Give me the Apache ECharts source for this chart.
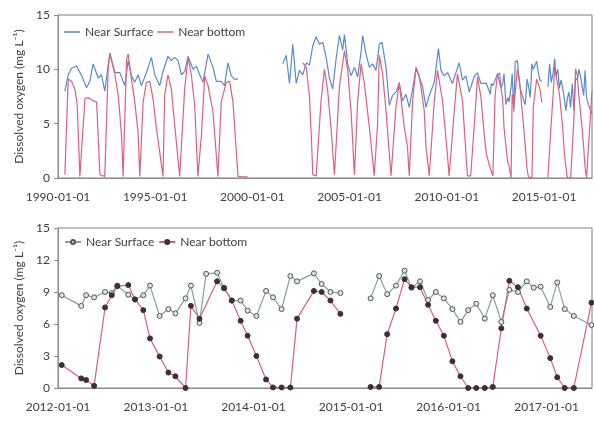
<!DOCTYPE html>
<html><head><meta charset="utf-8">
<script src="https://cdn.jsdelivr.net/npm/echarts@6/dist/echarts.min.js"></script>
<style>html,body{margin:0;padding:0;background:#fff}#c{width:594px;height:432px}</style>
</head><body><div id="c"></div><script>
// ---------- Top panel: 1990s ----------
const surf90Dates = ['1990-05-10','1990-07-12','1990-09-13','1990-12-16','1991-03-22','1991-06-21','1991-08-22','1991-10-23','1992-01-26','1992-03-29','1992-05-29','1992-09-01','1992-12-05','1993-03-08','1993-06-09','1993-08-11','1993-10-12','1993-12-13','1994-02-14','1994-04-18','1994-07-20','1994-10-22','1994-12-23','1995-03-27','1995-05-28','1995-08-29','1995-10-31','1996-01-04','1996-03-06','1996-05-07','1996-07-08','1996-09-09','1996-12-12','1997-02-13','1997-04-16','1997-06-17','1997-09-20','1997-12-21','1998-02-22','1998-05-26','1998-07-27','1998-09-28','1998-11-30','1999-02-01','1999-04-05'];
const surf90Values = [8.0,9.5,10.1,10.3,9.4,8.3,8.9,10.5,9.2,9.5,8.0,11.5,9.7,9.7,8.5,10.8,9.4,8.8,9.5,8.5,9.7,11.1,9.5,8.5,9.8,11.2,10.8,11.1,10.8,9.5,9.8,11.2,10.0,10.3,9.5,8.8,11.4,10.2,8.9,8.9,8.5,10.6,9.4,9.1,9.1];
const bot90Dates = ['1990-05-10','1990-07-12','1990-09-13','1990-11-14','1990-12-28','1991-02-16','1991-05-22','1991-07-22','1991-10-23','1991-12-27','1992-02-28','1992-05-29','1992-07-31','1992-09-01','1992-12-05','1993-02-06','1993-04-09','1993-05-08','1993-07-12','1993-08-11','1993-10-12','1993-12-13','1994-02-14','1994-03-18','1994-05-19','1994-07-20','1994-09-20','1994-11-21','1995-01-26','1995-05-28','1995-06-28','1995-08-29','1995-10-31','1996-01-04','1996-04-05','1996-07-08','1996-09-09','1996-11-10','1997-01-12','1997-03-14','1997-05-18','1997-07-19','1997-09-20','1997-12-21','1998-03-25','1998-05-26','1998-08-28','1998-10-30','1999-01-01','1999-04-05','1999-07-06','1999-10-01'];
const bot90Values = [0.3,9.1,8.9,8.2,6.7,0.15,7.3,7.4,7.1,7.0,0.3,0.15,10.0,11.5,9.5,7.6,3.9,0.15,10.9,11.4,9.1,7.0,4.2,0.15,7.0,8.8,8.9,7.3,4.5,0.15,7.6,9.5,8.2,4.8,0.15,8.2,11.1,9.5,6.7,0.15,3.9,9.4,8.5,6.1,0.15,7.0,8.8,8.9,7.0,0.15,0.1,0.1];

// ---------- Top panel: 2001-2011 ----------
const surf01Dates = ['2001-07-25','2001-09-27','2001-11-28','2002-01-29','2002-04-03','2002-06-04','2002-08-05','2002-10-08','2002-12-08','2003-02-09','2003-04-13','2003-06-14','2003-08-15','2003-10-18','2003-12-18','2004-02-18','2004-04-22','2004-06-23','2004-08-24','2004-09-25','2004-11-26','2005-01-29','2005-04-01','2005-06-01','2005-08-04','2005-09-03','2005-11-06','2006-01-06','2006-03-08','2006-05-11','2006-07-12','2006-09-01','2006-11-15','2007-01-16','2007-03-18','2007-05-21','2007-07-22','2007-09-22','2007-11-25','2008-01-26','2008-03-28','2008-05-31','2008-08-01','2008-10-02','2008-12-05','2009-02-05','2009-05-09','2009-07-28','2009-09-12','2009-11-13','2010-01-14','2010-04-17','2010-06-20','2010-08-21','2010-10-22','2010-12-25','2011-02-25','2011-05-29','2011-07-30','2011-10-02'];
const surf01Values = [10.5,11.3,8.7,12.3,8.7,9.9,9.5,10.6,10.4,12.2,13.0,12.3,12.5,11.1,9.2,8.2,11.0,13.1,11.8,13.2,10.5,9.4,10.2,9.3,11.6,13.1,11.4,10.2,10.5,9.9,12.3,12.5,10.2,6.7,7.6,7.9,8.7,7.1,7.7,6.5,8.2,10.0,9.3,8.4,6.5,7.6,8.8,11.9,9.9,9.4,9.7,8.7,9.7,10.6,9.0,9.4,7.9,9.3,9.7,8.7];
const bot01Dates = ['2002-08-05','2002-10-08','2002-12-08','2003-01-15','2003-02-09','2003-04-13','2003-07-14','2003-09-15','2003-11-16','2004-01-19','2004-03-21','2004-04-22','2004-06-23','2004-09-25','2004-11-26','2005-01-29','2005-04-01','2005-06-01','2005-08-04','2005-10-05','2006-01-06','2006-04-08','2006-06-10','2006-07-12','2006-09-12','2006-11-15','2007-02-17','2007-05-21','2007-07-22','2007-10-23','2007-12-23','2008-01-26','2008-03-28','2008-05-31','2008-08-01','2008-11-02','2008-12-05','2009-02-05','2009-05-09','2009-07-09','2009-10-12','2009-12-13','2010-02-14','2010-05-18','2010-07-19','2010-10-22','2011-01-23','2011-03-25','2011-06-17','2011-07-30','2011-10-02','2011-12-04'];
const bot01Values = [10.6,10.2,7.5,3.5,0.3,0.2,7.1,10.0,8.0,4.5,0.3,0.2,8.4,11.7,9.9,6.0,0.3,7.1,10.5,8.7,4.7,0.2,5.0,11.3,9.6,6.2,0.2,6.5,8.8,4.7,2.9,0.2,7.0,10.2,9.4,6.2,2.9,0.2,7.0,9.9,7.1,3.8,0.2,6.0,9.6,7.1,0.2,0.2,6.0,9.3,7.5,4.0];

// ---------- 2012-2017 (bottom panel; also end of top panel) ----------
const recSurfDates = ['2012-01-15','2012-03-28','2012-04-15','2012-05-15','2012-06-25','2012-07-20','2012-08-10','2012-09-20','2012-10-15','2012-11-15','2012-12-10','2013-01-15','2013-02-17','2013-03-15','2013-04-22','2013-05-12','2013-06-13','2013-07-08','2013-08-18','2013-09-13','2013-10-12','2013-11-14','2013-12-10','2014-01-12','2014-02-17','2014-03-15','2014-04-16','2014-05-19','2014-06-13','2014-08-15','2014-09-13','2014-10-16','2014-11-22','2015-01-01','2015-03-15','2015-04-16','2015-05-16','2015-06-18','2015-07-20','2015-08-15','2015-09-16','2015-10-16','2015-11-14','2015-12-14','2016-01-15','2016-02-14','2016-03-14','2016-04-13','2016-05-15','2016-06-14','2016-07-16','2016-08-15','2016-09-16','2016-10-19','2016-11-14','2016-12-10','2017-01-15','2017-02-10','2017-03-10','2017-04-13','2017-06-18'];
const recSurfValues = [8.7,7.7,8.7,8.5,9.0,8.9,9.6,8.75,8.3,8.7,9.6,6.75,7.4,7.0,8.4,9.6,6.1,10.7,10.8,9.4,8.2,8.2,7.25,6.75,9.1,8.5,7.4,10.5,10.0,10.75,9.75,9.0,8.9,null,8.4,10.5,8.8,9.6,11.0,9.4,10.0,8.25,9.0,8.4,7.4,6.2,7.3,7.9,6.5,8.7,6.2,9.2,9.0,10.0,9.4,9.5,7.6,9.9,7.4,6.75,5.9];
const recBotDates = ['2012-01-15','2012-03-28','2012-04-15','2012-05-15','2012-06-25','2012-07-20','2012-08-10','2012-09-20','2012-10-15','2012-11-15','2012-12-10','2013-01-15','2013-02-17','2013-03-15','2013-04-22','2013-05-12','2013-06-13','2013-08-18','2013-09-13','2013-10-12','2013-11-14','2013-12-10','2014-01-12','2014-02-17','2014-03-15','2014-04-16','2014-05-19','2014-06-13','2014-08-15','2014-09-13','2014-10-16','2014-11-22','2015-01-01','2015-03-15','2015-04-16','2015-05-16','2015-06-18','2015-07-20','2015-08-15','2015-09-16','2015-10-16','2015-11-14','2015-12-14','2016-01-15','2016-02-14','2016-03-14','2016-04-13','2016-05-15','2016-06-14','2016-07-16','2016-08-15','2016-09-16','2016-10-19','2016-12-10','2017-01-15','2017-02-10','2017-03-10','2017-04-13','2017-06-18'];
const recBotValues = [2.15,0.9,0.75,0.2,7.55,8.7,9.55,9.65,8.3,7.3,4.65,2.95,1.45,1.1,0,7.7,6.5,10.0,9.35,8.2,6.3,4.9,3.0,0.8,0.05,0.05,0.05,6.5,9.1,9.0,8.2,6.95,null,0.1,0.1,5.05,7.45,10.2,9.45,9.45,7.8,6.3,4.9,2.5,1.1,0,0,0,0.1,5.6,10.05,9.45,7.45,4.9,2.8,1.0,0,0,8.0];

// ---------- axes ----------
const topTicks = ['1990-01-01','1995-01-01','2000-01-01','2005-01-01','2010-01-01','2015-01-01'];
const botTicks = ['2012-01-01','2013-01-01','2014-01-01','2015-01-01','2016-01-01','2017-01-01'];
const topRange = ['1990-01-01','2017-06-20'];
const botRange = ['2012-01-01','2017-06-20'];
const legendNames = ['Near Surface','Near bottom'];
const yName = 'Dissolved oxygen (mg L\u207B\u00B9)';

const ts = d => new Date(d + 'T00:00:00').getTime();
const pairs = (ds, vs) => ds.map((d, i) => [ts(d), vs[i]]);
const gapTop = [[ts('2000-06-01'), null]];

const topSurf = pairs(surf90Dates, surf90Values).concat(gapTop, pairs(surf01Dates, surf01Values), pairs(recSurfDates, recSurfValues));
const topBot = pairs(bot90Dates, bot90Values).concat(gapTop, pairs(bot01Dates, bot01Values), pairs(recBotDates, recBotValues));
const botSurf = pairs(recSurfDates, recSurfValues);
const botBot = pairs(recBotDates, recBotValues);

const FONT = 'Lato';
const TXT = '#404040';
const AX = '#8c8c8c';
const C_SURF = '#5a8ad0', C_BOT = '#e0607a';
const pad = n => (n < 10 ? '0' : '') + n;
const fmt = v => { const d = new Date(v); return d.getFullYear() + '-' + pad(d.getMonth() + 1) + '-' + pad(d.getDate()); };

function xAx(gi, range, ticks) {
  return {
    type: 'value', gridIndex: gi, min: ts(range[0]), max: ts(range[1]),
    axisLine: { show: true, onZero: false, lineStyle: { color: AX } },
    axisTick: { show: false }, splitLine: { show: false },
    axisLabel: { customValues: ticks.map(ts), formatter: fmt, color: TXT, fontSize: 12, fontFamily: FONT, margin: 13, showMinLabel: true, showMaxLabel: true }
  };
}
function yAx(gi, interval) {
  return {
    type: 'value', gridIndex: gi, min: 0, max: 15, interval: interval,
    name: yName, nameLocation: 'middle', nameGap: 31,
    nameTextStyle: { color: TXT, fontSize: 12, fontFamily: FONT },
    axisLine: { show: true, lineStyle: { color: AX } },
    axisTick: { show: true, length: 4, lineStyle: { color: AX } },
    splitLine: { show: false },
    axisLabel: { color: TXT, fontSize: 12, fontFamily: FONT, margin: 8 }
  };
}

const nameMap = { s1: legendNames[0], b1: legendNames[1], s2: legendNames[0], b2: legendNames[1] };

const option = {
  animation: false,
  backgroundColor: '#fff',
  grid: [
    { left: 58, right: 2, top: 15, height: 163, show: true, borderColor: '#7f7f7f', borderWidth: 1 },
    { left: 58, right: 2, top: 228, height: 160, show: true, borderColor: '#7f7f7f', borderWidth: 1 }
  ],
  legend: [
    { data: [{ name: 's1', icon: 'rect', itemStyle: { color: C_SURF } }, { name: 'b1', icon: 'rect', itemStyle: { color: C_BOT } }],
      left: 59, top: 21, itemWidth: 16, itemHeight: 1.5, itemGap: 4, formatter: n => nameMap[n],
      textStyle: { color: TXT, fontSize: 12, fontFamily: FONT }, selectedMode: false },
    { data: ['s2', 'b2'], left: 59, top: 231, itemWidth: 16, itemHeight: 5, itemGap: 4, formatter: n => nameMap[n],
      textStyle: { color: TXT, fontSize: 12, fontFamily: FONT }, selectedMode: false }
  ],
  xAxis: [xAx(0, topRange, topTicks), xAx(1, botRange, botTicks)],
  yAxis: [yAx(0, 5), yAx(1, 3)],
  series: [
    { name: 's1', type: 'line', xAxisIndex: 0, yAxisIndex: 0, data: topSurf, symbol: 'none', connectNulls: false,
      lineStyle: { color: C_SURF, width: 1.2 }, itemStyle: { color: C_SURF } },
    { name: 'b1', type: 'line', xAxisIndex: 0, yAxisIndex: 0, data: topBot, symbol: 'none', connectNulls: false,
      lineStyle: { color: C_BOT, width: 1.2 }, itemStyle: { color: C_BOT }, z: 3 },
    { name: 's2', type: 'line', xAxisIndex: 1, yAxisIndex: 1, data: botSurf, symbol: 'circle', symbolSize: 5, connectNulls: false,
      lineStyle: { color: '#7fa39c', width: 1.2 }, itemStyle: { color: '#dfe3df', borderColor: '#555', borderWidth: 1 } },
    { name: 'b2', type: 'line', xAxisIndex: 1, yAxisIndex: 1, data: botBot, symbol: 'circle', symbolSize: 5, connectNulls: false,
      lineStyle: { color: '#d9607a', width: 1.2 }, itemStyle: { color: '#3d3035', borderColor: '#3d3035', borderWidth: 1 } }
  ]
};
echarts.init(document.getElementById('c'), null, { renderer: 'canvas' }).setOption(option);
</script></body></html>
